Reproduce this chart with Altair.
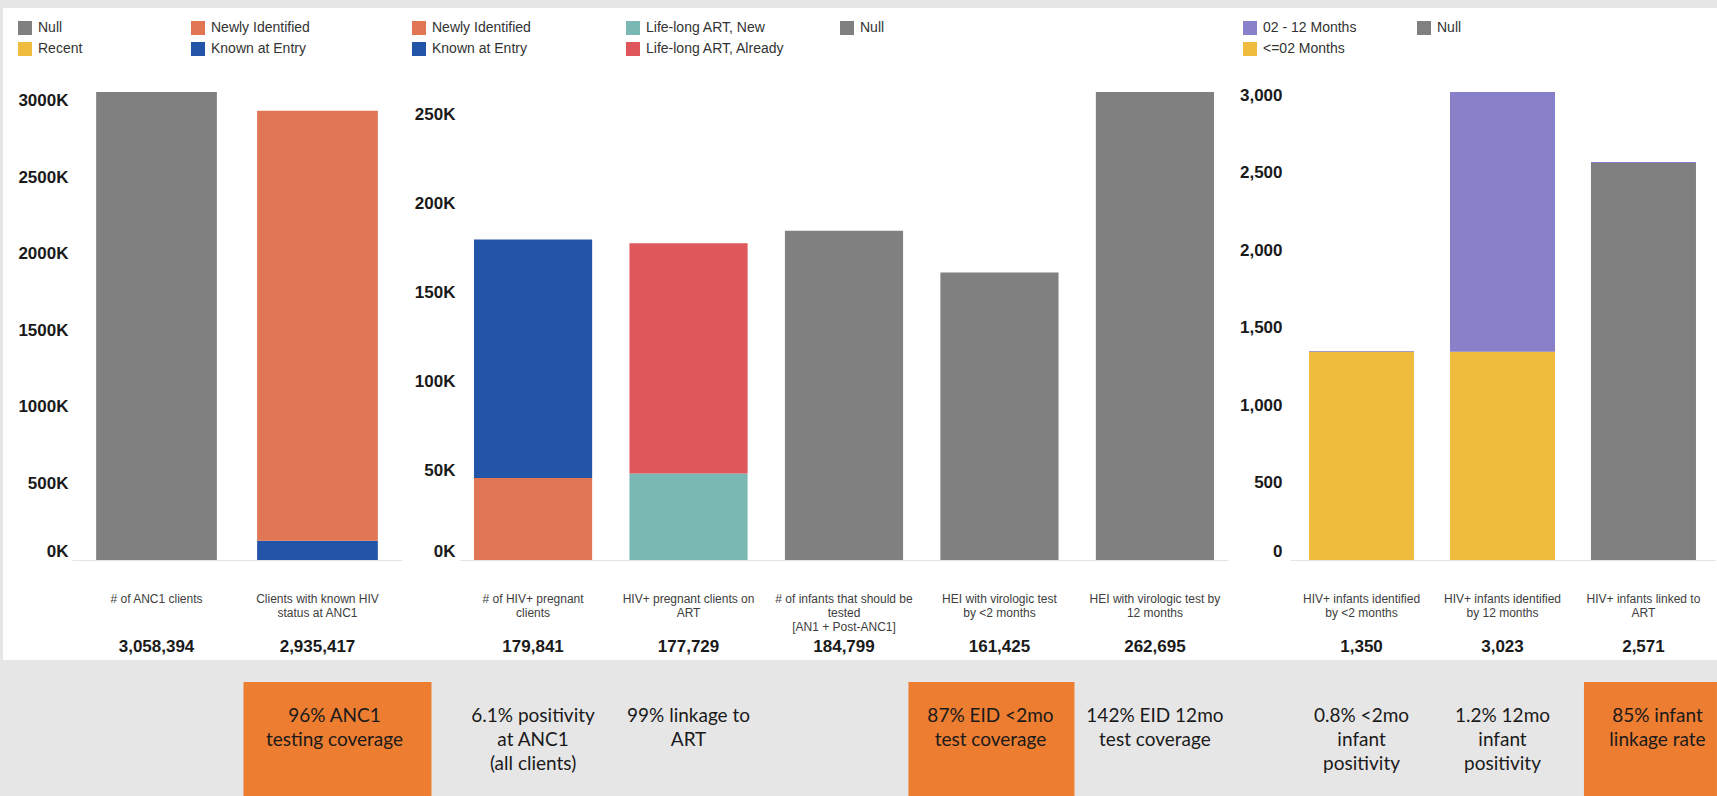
import altair as alt
import pandas as pd

# ---------------- data ----------------
p1_categories = ["# of ANC1 clients", "Clients with known HIV\nstatus at ANC1"]
p1_totals = [3058394, 2935417]
p1_seg_bar = [0, 1, 1]
p1_seg_status = ["Null", "Known at Entry", "Newly Identified"]
p1_seg_value = [3058394, 125000, 2810417]

p2_categories = [
    "# of HIV+ pregnant\nclients",
    "HIV+ pregnant clients on\nART",
    "# of infants that should be\ntested\n[AN1 + Post-ANC1]",
    "HEI with virologic test\nby <2 months",
    "HEI with virologic test by\n12 months",
]
p2_totals = [179841, 177729, 184799, 161425, 262695]
p2_seg_bar = [0, 0, 1, 1, 2, 3, 4]
p2_seg_status = ["Newly Identified", "Known at Entry", "Life-long ART, New",
                 "Life-long ART, Already", "Null", "Null", "Null"]
p2_seg_value = [46000, 133841, 48500, 129229, 184799, 161425, 262695]

p3_categories = [
    "HIV+ infants identified\nby <2 months",
    "HIV+ infants identified\nby 12 months",
    "HIV+ infants linked to\nART",
]
p3_totals = [1350, 3023, 2571]
p3_seg_bar = [0, 0, 1, 1, 2, 2]
p3_seg_status = ["<=02 Months", "02 - 12 Months", "<=02 Months", "02 - 12 Months",
                 "Null", "02 - 12 Months"]
p3_seg_value = [1345, 5, 1345, 1678, 2564, 7]

# legend entries (column by column)
p1_legend = ["Null", "Recent", "Newly Identified", "Known at Entry"]
p2_legend = ["Newly Identified", "Known at Entry", "Life-long ART, New",
             "Life-long ART, Already", "Null"]
p3_legend = ["02 - 12 Months", "<=02 Months", "Null"]

p1_ticks = [0, 500000, 1000000, 1500000, 2000000, 2500000, 3000000]
p2_ticks = [0, 50000, 100000, 150000, 200000, 250000]
p3_ticks = [0, 500, 1000, 1500, 2000, 2500, 3000]

p1_note_bar = [1]
p1_note_text = ["96% ANC1\ntesting coverage"]
p1_note_box = [True]

p2_note_bar = [0, 1, 3, 4]
p2_note_text = ["6.1% positivity\nat ANC1\n(all clients)", "99% linkage to\nART",
                "87% EID <2mo\ntest coverage", "142% EID 12mo\ntest coverage"]
p2_note_box = [False, False, True, False]

p3_note_bar = [0, 1, 2]
p3_note_text = ["0.8% <2mo\ninfant\npositivity", "1.2% 12mo\ninfant\npositivity",
                "85% infant\nlinkage rate"]
p3_note_box = [False, False, True]

# ---------------- style ----------------
COLORS = {
    "Null": "#808080",
    "Recent": "#F0BC3E",
    "Newly Identified": "#E07653",
    "Known at Entry": "#2255A8",
    "Life-long ART, New": "#79B8B3",
    "Life-long ART, Already": "#E0575B",
    "02 - 12 Months": "#8880C9",
    "<=02 Months": "#F0BC3E",
}
FONT = "Liberation Sans"
VIEW_H = 652


def panel(cats, totals, seg_bar, seg_status, seg_value, legend_dom, legend_cols,
          ticks, label_expr, view_w, x_range, pad_in, pad_out, axis_x, y_label_pad,
          legend_x, col_pad, note_bar, note_text, note_box, box_w, box_dx, text_dx):
    seg = pd.DataFrame({
        "cat": [cats[b] for b in seg_bar],
        "status": seg_status,
        "value": seg_value,
        "idx": list(range(len(seg_bar))),
    })
    tot = pd.DataFrame({"cat": cats, "total": totals})
    notes = pd.DataFrame({"cat": [cats[b] for b in note_bar], "note": note_text,
                          "box": note_box})
    boxed = notes[notes["box"]]
    plain = notes[~notes["box"]]

    x_enc = alt.X(
        "cat:N",
        title=None,
        sort=cats,
        scale=alt.Scale(domain=cats, range=x_range, paddingInner=pad_in,
                        paddingOuter=pad_out),
        axis=alt.Axis(
            labelExpr="split(datum.label, '\\n')",
            labelAngle=0,
            labelFont=FONT,
            labelFontSize=12,
            labelColor="#404040",
            labelLineHeight=14,
            labelBaseline="middle",
            labelPadding=38,
            labelLimit=400,
            ticks=False,
            grid=False,
            domainColor="#e4e4e4",
            domainWidth=1,
            offset=-(VIEW_H - 552),
        ),
    )

    bars = alt.Chart(seg).mark_bar().encode(
        x=x_enc,
        y=alt.Y(
            "value:Q",
            stack="zero",
            title=None,
            scale=alt.Scale(domain=[0, max(totals)], range=[552, 84], nice=False,
                            zero=True),
            axis=alt.Axis(
                values=ticks,
                labelExpr=label_expr,
                orient="left",
                offset=-axis_x,
                domain=False,
                ticks=False,
                grid=False,
                labelFont=FONT,
                labelFontSize=17,
                labelFontWeight="bold",
                labelColor="#1a1a1a",
                labelPadding=y_label_pad,
                labelBaseline=alt.condition("datum.value == 0", alt.value("bottom"),
                                            alt.value("middle")),
            ),
        ),
        color=alt.Color(
            "status:N",
            title=None,
            scale=alt.Scale(domain=legend_dom, range=[COLORS[s] for s in legend_dom]),
            legend=alt.Legend(
                orient="none",
                legendX=legend_x,
                legendY=13,
                columns=legend_cols,
                gridAlign="all",
                columnPadding=col_pad,
                rowPadding=7,
                symbolType="square",
                symbolSize=196,
                symbolStrokeWidth=0,
                labelFont=FONT,
                labelFontSize=14,
                labelColor="#333333",
                labelOffset=6,
                padding=0,
            ),
        ),
        order=alt.Order("idx:Q"),
    )

    totals_txt = alt.Chart(tot).mark_text(
        font=FONT, fontSize=17, fontWeight="bold", color="#1a1a1a", baseline="middle"
    ).encode(x=x_enc, y=alt.value(639), text=alt.Text("total:Q", format=","))

    box_layer = alt.Chart(boxed).mark_bar(
        color="#ED7D31", width=box_w, xOffset=box_dx
    ).encode(x=x_enc, y=alt.value(674), y2=alt.value(800))

    note_style = dict(font="Lato", fontSize=19, color="#1a1a1a", baseline="top",
                      align="center", lineBreak="\n", lineHeight=24)
    boxed_txt = alt.Chart(boxed).mark_text(dx=text_dx, **note_style).encode(
        x=x_enc, y=alt.value(699), text="note:N")
    layers = [bars, totals_txt, box_layer, boxed_txt]
    if len(plain):
        plain_txt = alt.Chart(plain).mark_text(**note_style).encode(
            x=x_enc, y=alt.value(699), text="note:N")
        layers.append(plain_txt)

    return alt.layer(*layers).properties(width=view_w, height=VIEW_H)


k_expr = "format(datum.value / 1000, 'd') + 'K'"
c_expr = "format(datum.value, ',')"

p1 = panel(p1_categories, p1_totals, p1_seg_bar, p1_seg_status, p1_seg_value,
           p1_legend, 2, p1_ticks, k_expr, 402, [69, 399], 0.25, 0.15, 69, 4,
           15, 54, p1_note_bar, p1_note_text, p1_note_box, 188, 20, 17)
p2 = panel(p2_categories, p2_totals, p2_seg_bar, p2_seg_status, p2_seg_value,
           p2_legend, 3, p2_ticks, k_expr, 830, [55, 823], 0.24, 0.09, 55, 5,
           7, 54, p2_note_bar, p2_note_text, p2_note_box, 166, -8, -9)
p3 = panel(p3_categories, p3_totals, p3_seg_bar, p3_seg_status, p3_seg_value,
           p3_legend, 2, p3_ticks, c_expr, 482, [55, 480], 0.255, 0.135, 55, 8,
           8, 60, p3_note_bar, p3_note_text, p3_note_box, 133, 7, 14)

chart = (
    alt.hconcat(p1, p2, p3, spacing=0, bounds="flush")
    .resolve_scale(color="independent", y="independent", x="independent")
    .resolve_legend(color="independent")
    .properties(
        padding={"left": 3, "top": 8, "right": 0, "bottom": 0},
        background="#e7e6e6",
    )
    .configure_view(fill="white", strokeWidth=0)
)

chart.save("out.html", embed_options={"renderer": "svg", "actions": False})
